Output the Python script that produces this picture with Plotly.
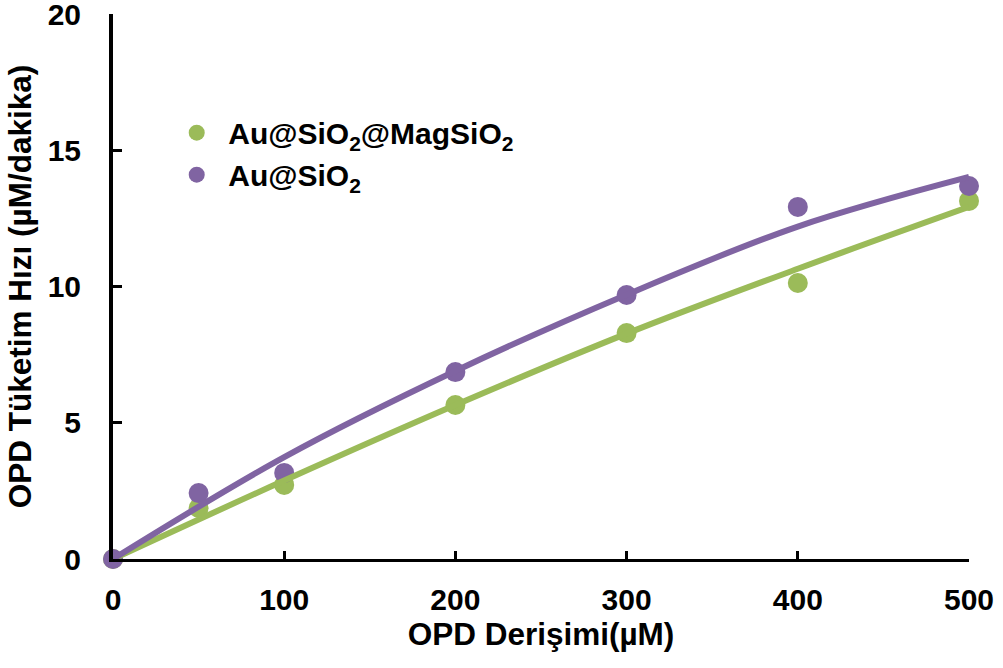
import plotly.graph_objects as go

# Data
conc = [0, 50, 100, 200, 300, 400, 500]
rate_mag = [0, 1.87, 2.72, 5.65, 8.29, 10.13, 13.14]    # Au@SiO2@MagSiO2
rate_sio2 = [0, 2.42, 3.16, 6.86, 9.69, 12.92, 13.69]   # Au@SiO2

# Fitted trend lines
fit_x = [0, 100, 200, 300, 400, 500]
fit_mag = [0, 2.88, 5.65, 8.27, 10.65, 12.92]
fit_sio2 = [0, 3.74, 6.9, 9.7, 12.2, 14.02]

x_ticks = [0, 100, 200, 300, 400, 500]
y_ticks = [0, 5, 10, 15, 20]

GREEN = "#9BBB59"
PURPLE = "#8064A2"
FONT = "Liberation Sans, Arial, sans-serif"

fig = go.Figure()
fig.add_trace(go.Scatter(x=conc, y=rate_mag, mode="markers", name="Au@SiO<sub>2</sub>@MagSiO<sub>2</sub>",
                         marker=dict(color=GREEN, size=20), cliponaxis=False))
fig.add_trace(go.Scatter(x=conc, y=rate_sio2, mode="markers", name="Au@SiO<sub>2</sub>",
                         marker=dict(color=PURPLE, size=20), cliponaxis=False))
fig.add_trace(go.Scatter(x=fit_x, y=fit_mag, mode="lines", line=dict(color=GREEN, width=6, shape="spline"),
                         showlegend=False, cliponaxis=False))
fig.add_trace(go.Scatter(x=fit_x, y=fit_sio2, mode="lines", line=dict(color=PURPLE, width=6, shape="spline"),
                         showlegend=False, cliponaxis=False))

fig.update_layout(
    width=1003, height=668,
    margin=dict(l=113, r=34, t=14, b=109),
    paper_bgcolor="white", plot_bgcolor="white",
    font=dict(family=FONT, color="black"),
    legend=dict(x=0.061, y=0.83, xanchor="left", yanchor="top",
                font=dict(size=30, weight="bold", family=FONT),
                bgcolor="rgba(0,0,0,0)", itemwidth=53, tracegroupgap=0),
    xaxis=dict(range=[0, 500], tickvals=x_ticks, ticks="inside", ticklen=8, tickwidth=3,
               tickcolor="black", showline=True, linewidth=3, linecolor="black",
               showgrid=False, zeroline=False, ticklabelstandoff=12, automargin=False,
               tickfont=dict(size=30, weight="bold", family=FONT),
               title=dict(text="OPD Derişimi(µM)", font=dict(size=31.5, weight="bold", family=FONT), standoff=4)),
    yaxis=dict(range=[0, 20], tickvals=y_ticks, ticks="inside", ticklen=9, tickwidth=3,
               tickcolor="black", showline=True, linewidth=4, linecolor="black",
               showgrid=False, zeroline=False, ticklabelstandoff=22, ticklabeloverflow="allow",
               automargin=False,
               tickfont=dict(size=30, weight="bold", family=FONT),
               title=dict(text="OPD Tüketim Hızı (µM/dakika)", font=dict(size=31.5, weight="bold", family=FONT), standoff=8)),
)

fig.write_html("out.html")
